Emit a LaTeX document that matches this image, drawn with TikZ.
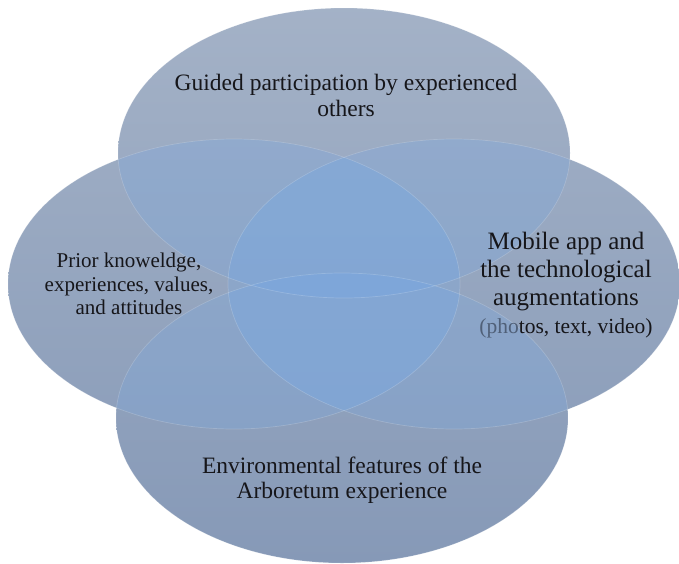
\documentclass[tikz,border=0pt]{standalone}
\usepackage{fontspec}
\setmainfont{Liberation Serif}
\definecolor{gtop}{RGB}{164,178,199}
\definecolor{gbot}{RGB}{134,153,183}
\definecolor{overblue}{RGB}{126,168,220}
\definecolor{txt}{RGB}{22,22,26}
\definecolor{phogray}{RGB}{80,96,120}
\begin{document}
\begin{tikzpicture}[x=1pt,y=-1pt,
  er/.style={x radius=226pt, y radius=145pt},
  ovl/.style={fill=overblue, fill opacity=0.36},
  rim/.style={draw=white, draw opacity=0.18, line width=0.7pt},
  lbl/.style={align=center, text=txt, inner sep=0pt}]
\useasboundingbox (0,0) rectangle (679,563);
\fill[white] (0,0) rectangle (679,563);
\coordinate (cT) at (344,153);
\coordinate (cL) at (234,284);
\coordinate (cR) at (454,284);
\coordinate (cB) at (342,418);
% base gradient on the union
\begin{scope}\clip (cT) ellipse[er]; \shade[top color=gtop, bottom color=gbot] (0,0) rectangle (679,563);\end{scope}
\begin{scope}\clip (cL) ellipse[er]; \shade[top color=gtop, bottom color=gbot] (0,0) rectangle (679,563);\end{scope}
\begin{scope}\clip (cR) ellipse[er]; \shade[top color=gtop, bottom color=gbot] (0,0) rectangle (679,563);\end{scope}
\begin{scope}\clip (cB) ellipse[er]; \shade[top color=gtop, bottom color=gbot] (0,0) rectangle (679,563);\end{scope}
% pairwise overlaps
\begin{scope}\clip (cT) ellipse[er]; \fill[ovl] (cL) ellipse[er];\end{scope}
\begin{scope}\clip (cT) ellipse[er]; \fill[ovl] (cR) ellipse[er];\end{scope}
\begin{scope}\clip (cT) ellipse[er]; \fill[ovl] (cB) ellipse[er];\end{scope}
\begin{scope}\clip (cL) ellipse[er]; \fill[ovl] (cR) ellipse[er];\end{scope}
\begin{scope}\clip (cL) ellipse[er]; \fill[ovl] (cB) ellipse[er];\end{scope}
\begin{scope}\clip (cR) ellipse[er]; \fill[ovl] (cB) ellipse[er];\end{scope}
% rims
\draw[rim] (cT) ellipse[er];
\draw[rim] (cL) ellipse[er];
\draw[rim] (cR) ellipse[er];
\draw[rim] (cB) ellipse[er];
% labels
\node[lbl, font=\fontsize{23.5}{26}\selectfont] (tT) at (346,95) {Guided participation by experienced\\others};
\node[lbl, font=\fontsize{21}{23.5}\selectfont] (tL) at (129,284) {Prior knoweldge,\\experiences, values,\\and attitudes};
\node[lbl, font=\fontsize{25}{28}\selectfont] (tR) at (566,285) {Mobile app and\\the technological\\augmentations\\{\fontsize{21.5}{27}\selectfont{\color{phogray}(pho}tos, text, video)}};
\node[lbl, font=\fontsize{23.5}{25}\selectfont] (tB) at (342,480) {Environmental features of the\\Arboretum experience};
\end{tikzpicture}
\end{document}
